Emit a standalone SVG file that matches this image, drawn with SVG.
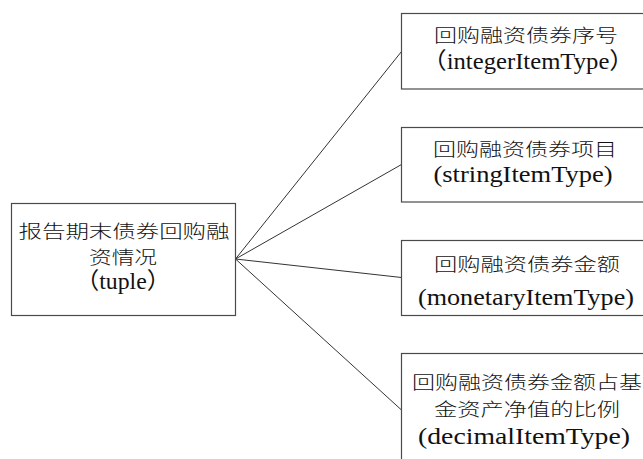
<svg xmlns="http://www.w3.org/2000/svg" width="643" height="459" viewBox="0 0 643 459">
<style>
.box{fill:#ffffff;stroke:#4a4a4a;stroke-width:1.2}
.ln{stroke:#333333;stroke-width:1;fill:none}
.cjk{font-family:"Noto Sans CJK SC",sans-serif;font-size:18px;font-weight:300;fill:#111;text-anchor:middle}
.lat{font-family:"Liberation Serif","Noto Sans CJK SC",serif;font-size:23px;fill:#111;text-anchor:middle}
</style>
<rect width="643" height="459" fill="#ffffff"/>
<g id="connectors">
<line class="ln" x1="235.5" y1="259" x2="401.5" y2="51.5"/>
<line class="ln" x1="235.5" y1="259" x2="401.5" y2="164.5"/>
<line class="ln" x1="235.5" y1="259" x2="401.5" y2="277.5"/>
<line class="ln" x1="235.5" y1="259" x2="401.5" y2="410"/>
</g>
<g id="root">
<rect class="box" x="11.5" y="203.5" width="224" height="112"/>
<text class="cjk" x="124" y="238" textLength="211" lengthAdjust="spacingAndGlyphs">报告期末债券回购融</text>
<text class="cjk" x="123" y="263.5" textLength="68" lengthAdjust="spacingAndGlyphs">资情况</text>
<text class="lat" x="123" y="289" textLength="95" lengthAdjust="spacingAndGlyphs">（tuple）</text>
</g>
<g id="n1">
<rect class="box" x="401.5" y="13.5" width="250" height="75.5"/>
<text class="cjk" x="526" y="42" textLength="184" lengthAdjust="spacingAndGlyphs">回购融资债券序号</text>
<text class="lat" x="528" y="68.5" textLength="212" lengthAdjust="spacingAndGlyphs">（integerItemType）</text>
</g>
<g id="n2">
<rect class="box" x="401.5" y="127.5" width="250" height="74.5"/>
<text class="cjk" x="525" y="155.5" textLength="184" lengthAdjust="spacingAndGlyphs">回购融资债券项目</text>
<text class="lat" x="523" y="182" textLength="179" lengthAdjust="spacingAndGlyphs">(stringItemType)</text>
</g>
<g id="n3">
<rect class="box" x="401.5" y="240.5" width="250" height="75"/>
<text class="cjk" x="527" y="270.5" textLength="186" lengthAdjust="spacingAndGlyphs">回购融资债券金额</text>
<text class="lat" x="526" y="305" textLength="216" lengthAdjust="spacingAndGlyphs">(monetaryItemType)</text>
</g>
<g id="n4">
<rect class="box" x="401.5" y="353.5" width="250" height="120"/>
<text class="cjk" x="527" y="388.5" textLength="230" lengthAdjust="spacingAndGlyphs">回购融资债券金额占基</text>
<text class="cjk" x="527" y="415.5" textLength="186" lengthAdjust="spacingAndGlyphs">金资产净值的比例</text>
<text class="lat" x="524" y="444" textLength="212" lengthAdjust="spacingAndGlyphs">(decimalItemType)</text>
</g>
</svg>
